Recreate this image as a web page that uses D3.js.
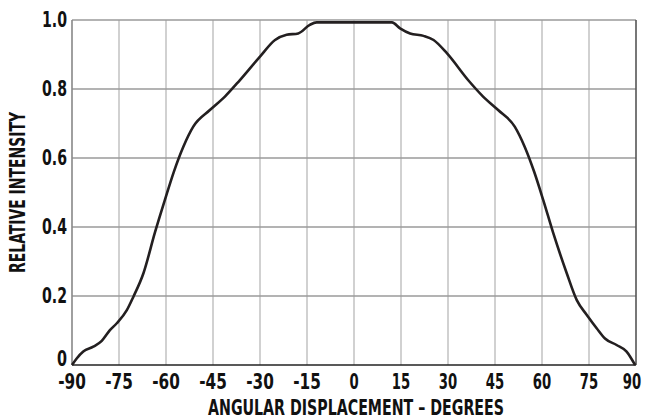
<!DOCTYPE html>
<html>
<head>
<meta charset="utf-8">
<script src="https://cdn.jsdelivr.net/npm/d3@7"></script>
<style>
  html, body { margin: 0; padding: 0; background: #fff; }
  text { font-family: "DejaVu Sans Condensed", "DejaVu Sans", sans-serif; font-stretch: condensed; font-weight: bold; fill: #111; }
</style>
</head>
<body>
<div id="chart"></div>
<script>
var w = 648, h = 420;
var margin = {top: 20, right: 12, bottom: 55, left: 72};

// data
var angles = [-90, -88.5, -86.4, -83.2, -80.5, -77.9, -75.7, -72.5, -70.4, -67.2, -63.5, -60.3, -57.5, -54.5, -51.3, -46, -41.2, -36.4, -30, -25.2, -21.5, -17.8, -14.1, -11.9, -6, 0, 6, 12.1, 14.7, 17.9, 22.2, 25.4, 29.7, 36.4, 41.2, 46, 51.3, 54.5, 57.5, 60.4, 63.6, 67.9, 71.1, 74.3, 77.5, 80.1, 83.8, 87, 89.7];
var intensity = [0, 0.019, 0.039, 0.053, 0.070, 0.101, 0.121, 0.159, 0.198, 0.266, 0.385, 0.480, 0.560, 0.632, 0.691, 0.739, 0.778, 0.826, 0.894, 0.942, 0.957, 0.961, 0.986, 0.993, 0.993, 0.993, 0.993, 0.993, 0.976, 0.961, 0.954, 0.942, 0.903, 0.826, 0.778, 0.739, 0.691, 0.632, 0.560, 0.478, 0.382, 0.266, 0.188, 0.145, 0.106, 0.077, 0.058, 0.039, 0];
var xTicks = [-90, -75, -60, -45, -30, -15, 0, 15, 30, 45, 60, 75, 90];
var yTicks = [0, 0.2, 0.4, 0.6, 0.8, 1.0];

var pw = w - margin.left - margin.right, ph = h - margin.top - margin.bottom;

var svg = d3.select("#chart").append("svg")
    .attr("width", w)
    .attr("height", h);

var x = d3.scaleLinear().domain([-90, 90]).range([margin.left, margin.left + pw]);
var y = d3.scaleLinear().domain([0, 1]).range([margin.top + ph, margin.top]);

// vertical grid
svg.append("g").selectAll("line")
    .data(xTicks.slice(1, -1))
  .enter().append("line")
    .attr("x1", function(d) { return x(d); })
    .attr("x2", function(d) { return x(d); })
    .attr("y1", y(0)).attr("y2", y(1))
    .attr("stroke", "#c2c2c2").attr("stroke-width", 1.5);

// horizontal grid
svg.append("g").selectAll("line")
    .data(yTicks.slice(1))
  .enter().append("line")
    .attr("x1", x(-90)).attr("x2", x(90))
    .attr("y1", function(d) { return y(d); })
    .attr("y2", function(d) { return y(d); })
    .attr("stroke", "#9a9a9a").attr("stroke-width", 1.3);

// frame
svg.append("line").attr("x1", x(-90)).attr("x2", x(-90)).attr("y1", y(0)).attr("y2", y(1))
    .attr("stroke", "#888").attr("stroke-width", 1.6);
svg.append("line").attr("x1", x(90)).attr("x2", x(90)).attr("y1", y(0)).attr("y2", y(1))
    .attr("stroke", "#555").attr("stroke-width", 1.6);
svg.append("line").attr("x1", x(-90)).attr("x2", x(90)).attr("y1", y(0)).attr("y2", y(0))
    .attr("stroke", "#222").attr("stroke-width", 1.6);

// curve
var pts = angles.map(function(a, i) { return [a, intensity[i]]; });
var line = d3.line()
    .x(function(d) { return x(d[0]); })
    .y(function(d) { return y(d[1]); })
    .curve(d3.curveMonotoneX);
svg.append("path")
    .datum(pts)
    .attr("d", line)
    .attr("fill", "none")
    .attr("stroke", "#231f20")
    .attr("stroke-width", 2.6)
    .attr("stroke-linejoin", "round");

// squeeze the bold face to the narrow width seen in the reference
function fit(sel, width) {
  sel.each(function() {
    var len = this.getComputedTextLength();
    var tw = width(this.textContent);
    if (len > tw) d3.select(this).attr("textLength", tw).attr("lengthAdjust", "spacingAndGlyphs");
  });
}

var xl = svg.append("g").selectAll("text")
    .data(xTicks)
  .enter().append("text")
    .attr("x", function(d) { return d === 90 ? x(d) - 4 : x(d); })
    .attr("y", 389)
    .attr("text-anchor", "middle")
    .attr("font-size", 21)
    .text(function(d) { return d; });
fit(xl, function(t) { return t.length * 9.2; });

var yl = svg.append("g").selectAll("text")
    .data(yTicks)
  .enter().append("text")
    .attr("x", 67)
    .attr("y", function(d) { return d === 0 ? y(d) + 1 : y(d) + 7; })
    .attr("text-anchor", "end")
    .attr("font-size", 21)
    .text(function(d) { return d === 0 ? "0" : d.toFixed(1); });
fit(yl, function(t) { return t === "0" ? 10 : 25; });

// axis titles
var xt = svg.append("text")
    .attr("x", 356)
    .attr("y", 415)
    .attr("text-anchor", "middle")
    .attr("font-size", 21)
    .text("ANGULAR DISPLACEMENT \u2013 DEGREES");
fit(xt, function() { return 296; });

var yt = svg.append("text")
    .attr("transform", "translate(25," + (y(0.5)) + ") rotate(-90)")
    .attr("text-anchor", "middle")
    .attr("font-size", 21)
    .text("RELATIVE INTENSITY");
fit(yt, function() { return 161; });
</script>
</body>
</html>
